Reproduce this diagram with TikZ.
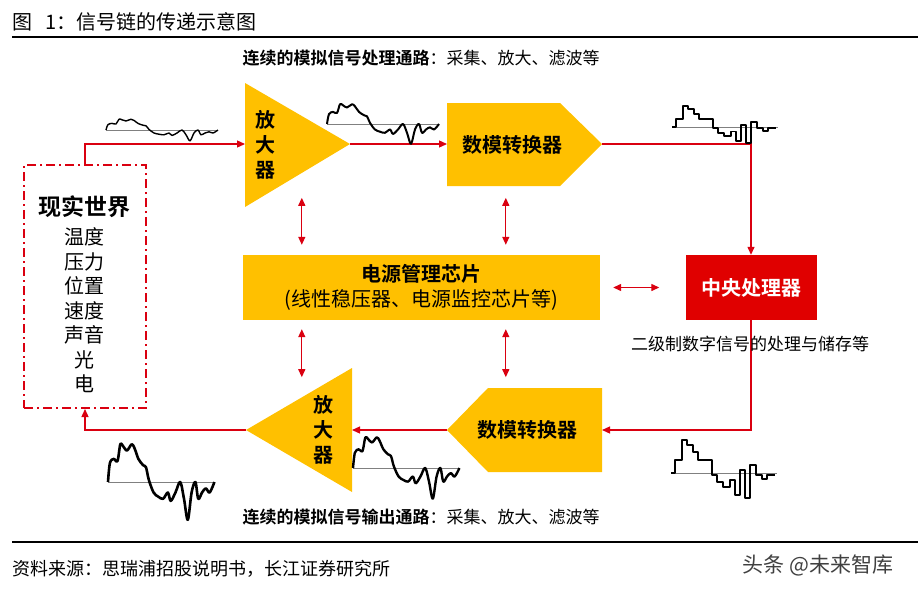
\documentclass[tikz,border=0pt]{standalone}
\usepackage{fontspec}
\setmainfont{Noto Sans CJK SC}[BoldFont={Noto Sans CJK SC Bold}]
\usetikzlibrary{arrows.meta}
\definecolor{chipyellow}{RGB}{255,192,0}
\definecolor{linered}{RGB}{218,0,16}
\definecolor{cpured}{RGB}{224,0,0}

\newcommand{\analogwave}[5][]{%
  \begin{scope}[shift={(#2,#3)},xscale=#4,yscale=#5]
    \draw[zero] (0,0) -- (112,0);
    \draw[wave,#1] plot[smooth,tension=0.55] coordinates {(0,0) (2,-9) (6,-11) (10,-10) (13,-18) (16,-17) (20,-15) (25,-18) (28,-16) (32,-11) (37,-8) (40,-7) (43,-1) (48,5) (53,7) (58,8) (63,5) (66,9) (71,5) (76,0) (80,8) (84,18) (88,5) (92,0) (95,8) (99,5) (103,3) (107,5) (112,0)};
  \end{scope}}
\newcommand{\digitalwave}[5][]{%
  \begin{scope}[shift={(#2,#3)},xscale=#4,yscale=#5]
    \draw[zero] (0,0) -- (106,0);
    \draw[wave,line width=1.8pt,#1] (0,0) -- (4,0) -- (4,-13) -- (11,-13) -- (11,-33) -- (16,-33) -- (16,-28) -- (22,-28) -- (22,-21) -- (27,-21) -- (27,-13) -- (41,-13) -- (41,2) -- (46,2) -- (46,9) -- (52,9) -- (52,14) -- (59,14) -- (59,7) -- (64,7) -- (64,22) -- (69,22) -- (69,-3) -- (74,-3) -- (74,25) -- (79,25) -- (79,-8) -- (85,-8) -- (85,2) -- (91,2) -- (91,6) -- (96,6) -- (96,2) -- (104,2);
  \end{scope}}

\begin{document}
\begin{tikzpicture}[x=1pt,y=-1pt,
  chip/.style={fill=chipyellow},
  sig/.style={linered,line width=1.3pt,-{Triangle[length=8pt,width=7pt]}},
  dsig/.style={linered,line width=1.3pt,{Triangle[length=8pt,width=7pt]}-{Triangle[length=8pt,width=7pt]}},
  wave/.style={line width=2pt,line join=round},
  zero/.style={gray,line width=1pt},
  big/.style={inner sep=0pt,font=\fontsize{20}{25}\selectfont},
  mid/.style={inner sep=0pt,font=\fontsize{17}{21}\selectfont}]
\useasboundingbox (0,0) rectangle (918,590);

\node[big,anchor=west] (title) at (12,22) {图\hspace{13pt}1：信号链的传递示意图};
\draw[line width=2.5pt] (12,37) -- (918,37);
\node[mid] (topcap) at (421,58) {\textbf{连续的模拟信号处理通路}：采集、放大、滤波等};
\node[mid] (botcap) at (421,517) {\textbf{连续的模拟信号输出通路}：采集、放大、滤波等};

\fill[chip] (245,83) -- (350,144) coordinate (amp1out) -- (245,207) -- cycle;
\coordinate (amp1in) at (245,144);
\fill[chip] (447,103) coordinate (dac1nw) -- (560,103) -- (602,144) coordinate (dac1out) -- (560,186) -- (447,186) -- cycle;
\coordinate (dac1in) at (447,144);
\fill[chip] (602,388) -- (488,388) -- (447,430) coordinate (dac2out) -- (488,472) -- (602,472) -- cycle;
\coordinate (dac2in) at (602,430);
\fill[chip] (352,368) -- (246,430) coordinate (amp2out) -- (352,492) -- cycle;
\coordinate (amp2in) at (352,430);

\node[big,font=\fontsize{20}{25}\selectfont\bfseries,align=center] (amp1) at (265,145) {放\\大\\器};
\node[big,font=\fontsize{20}{25}\selectfont\bfseries,align=center] (amp2) at (323,430) {放\\大\\器};
\node[big,font=\fontsize{20}{25}\selectfont\bfseries] (dac1) at (512,145) {数模转换器};
\node[big,font=\fontsize{20}{25}\selectfont\bfseries] (dac2) at (527,430) {数模转换器};

\node[chip,big,minimum width=357pt,minimum height=65pt,align=center] (pm) at (421.5,287.5) {\textbf{电源管理芯片}\\(线性稳压器、电源监控芯片等)};
\node[fill=cpured,text=white,big,font=\fontsize{20}{25}\selectfont\bfseries,minimum width=131pt,minimum height=65pt] (cpu) at (751,287.5) {中央处理器};

\node[draw=linered,line width=2pt,dash pattern=on 9pt off 4pt on 2pt off 4pt,minimum width=122pt,minimum height=243pt] (world) at (85,286.5) {};
\node[inner sep=0pt,font=\fontsize{23}{25}\selectfont\bfseries] (worldname) at (84,207) {现实世界};
\node[inner sep=0pt,font=\fontsize{20}{24.5}\selectfont,align=center] (worldlist) at (84,310.5) {温度\\压力\\位置\\速度\\声音\\光\\电};

\draw[sig] (world.north) |- (amp1in);
\draw[sig] (amp1out) -- (dac1in);
\draw[sig] (dac1out) -| (cpu.north);
\draw[sig] (cpu.south) |- (dac2in);
\draw[sig] (dac2out) -- (amp2in);
\draw[sig] (amp2out) -| (world.south);
\foreach \dx in {59,263}{
  \draw[dsig] ([xshift=\dx pt,yshift=10pt]pm.north west) -- ++(0,-47);
  \draw[dsig] ([xshift=\dx pt,yshift=-9pt]pm.south west) -- ++(0,48);
}
\draw[dsig,shorten <=13pt,shorten >=26pt] (pm.east) -- (cpu.west);
\node[mid] (cpucap) at (750,344) {二级制数字信号的处理与储存等};

\analogwave[line width=1.4pt]{106}{130}{1}{0.6}
\analogwave{327}{124}{1}{1.1}
\analogwave[line width=2.4pt]{353}{468}{0.95}{1.7}
\analogwave[line width=2.6pt]{108}{482}{0.95}{2.1}
\digitalwave{672}{127}{1}{0.63}
\digitalwave{671}{473}{1}{1}

\draw[line width=2.5pt] (12,542) -- (918,542);
\node[inner sep=0pt,anchor=west,font=\fontsize{18}{20}\selectfont] (source) at (12,569) {资料来源：思瑞浦招股说明书，长江证券研究所};
\node[inner sep=0pt,text=black!75,font=\fontsize{21}{24}\selectfont] (mark) at (818,565) {头条 @未来智库};
\end{tikzpicture}
\end{document}
